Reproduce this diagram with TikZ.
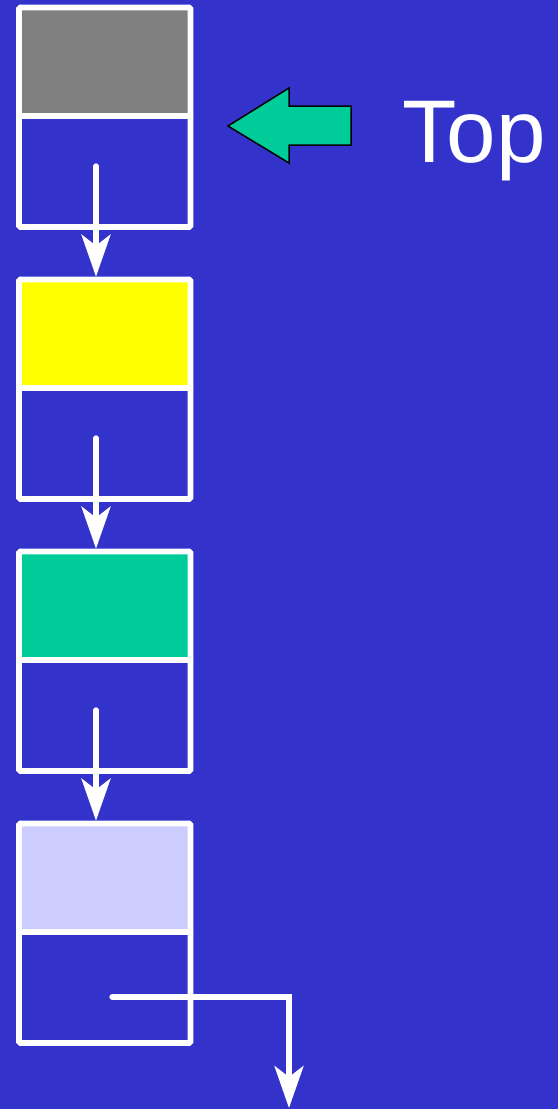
\documentclass[tikz,border=0pt]{standalone}
\usepackage{fontspec}
\setmainfont{Liberation Sans}
\usetikzlibrary{arrows.meta}
\definecolor{bgblue}{HTML}{3333CC}
\definecolor{cellgray}{HTML}{808080}
\definecolor{cellyellow}{HTML}{FFFF00}
\definecolor{cellgreen}{HTML}{00CC99}
\definecolor{celllav}{HTML}{CCCCFF}
\tikzset{
  datacell/.style={draw=white, line width=5.7pt, rounded corners=1.5pt, inner sep=0pt,
    minimum width=171.5pt, minimum height=108.5pt},
  linkcell/.style={draw=white, line width=5.7pt, rounded corners=1.5pt, inner sep=0pt,
    minimum width=171.5pt, minimum height=111pt},
  link/.style={draw=white, line width=5.3pt, line cap=round,
    -{Stealth[length=42pt, width=29pt, inset=11pt]}},
  toparrow/.style={fill=cellgreen, draw=black, line width=1.5pt, line join=miter},
  toplabel/.style={text=white, font=\fontsize{89}{92}\selectfont, inner sep=0pt, anchor=base west}
}
\begin{document}
\begin{tikzpicture}[x=1pt, y=-1pt]
\fill[bgblue] (0,0) rectangle (558,1109);
\useasboundingbox (0,0) rectangle (558,1109);
% cells
\node[datacell, fill=cellgray]   (d0) at (104.75, 61.75) {};
\node[linkcell]                  (l0) at (104.75, 171.5) {};
\node[datacell, fill=cellyellow] (d1) at (104.75, 333.75) {};
\node[linkcell]                  (l1) at (104.75, 443.5) {};
\node[datacell, fill=cellgreen]  (d2) at (104.75, 605.75) {};
\node[linkcell]                  (l2) at (104.75, 715.5) {};
\node[datacell, fill=celllav]    (d3) at (104.75, 877.75) {};
\node[linkcell]                  (l3) at (104.75, 987.5) {};
% pointer starts
\coordinate (s0) at (96, 166);
\coordinate (s1) at (96, 438);
\coordinate (s2) at (96, 710);
\coordinate (s3) at (112, 997);
\coordinate (nullend) at (289, 1108);
% links
\draw[link] (s0) -- (d1.north -| s0);
\draw[link] (s1) -- (d2.north -| s1);
\draw[link] (s2) -- (d3.north -| s2);
\draw[link, line join=miter] (s3) -| (nullend);
% top pointer
\draw[toparrow] (228,126) -- (289,88) -- (289,106) -- (351,106) -- (351,145) -- (289,145) -- (289,163) -- cycle;
\node[toplabel] (top) at (402, 162.3) {Top};
\end{tikzpicture}
\end{document}
